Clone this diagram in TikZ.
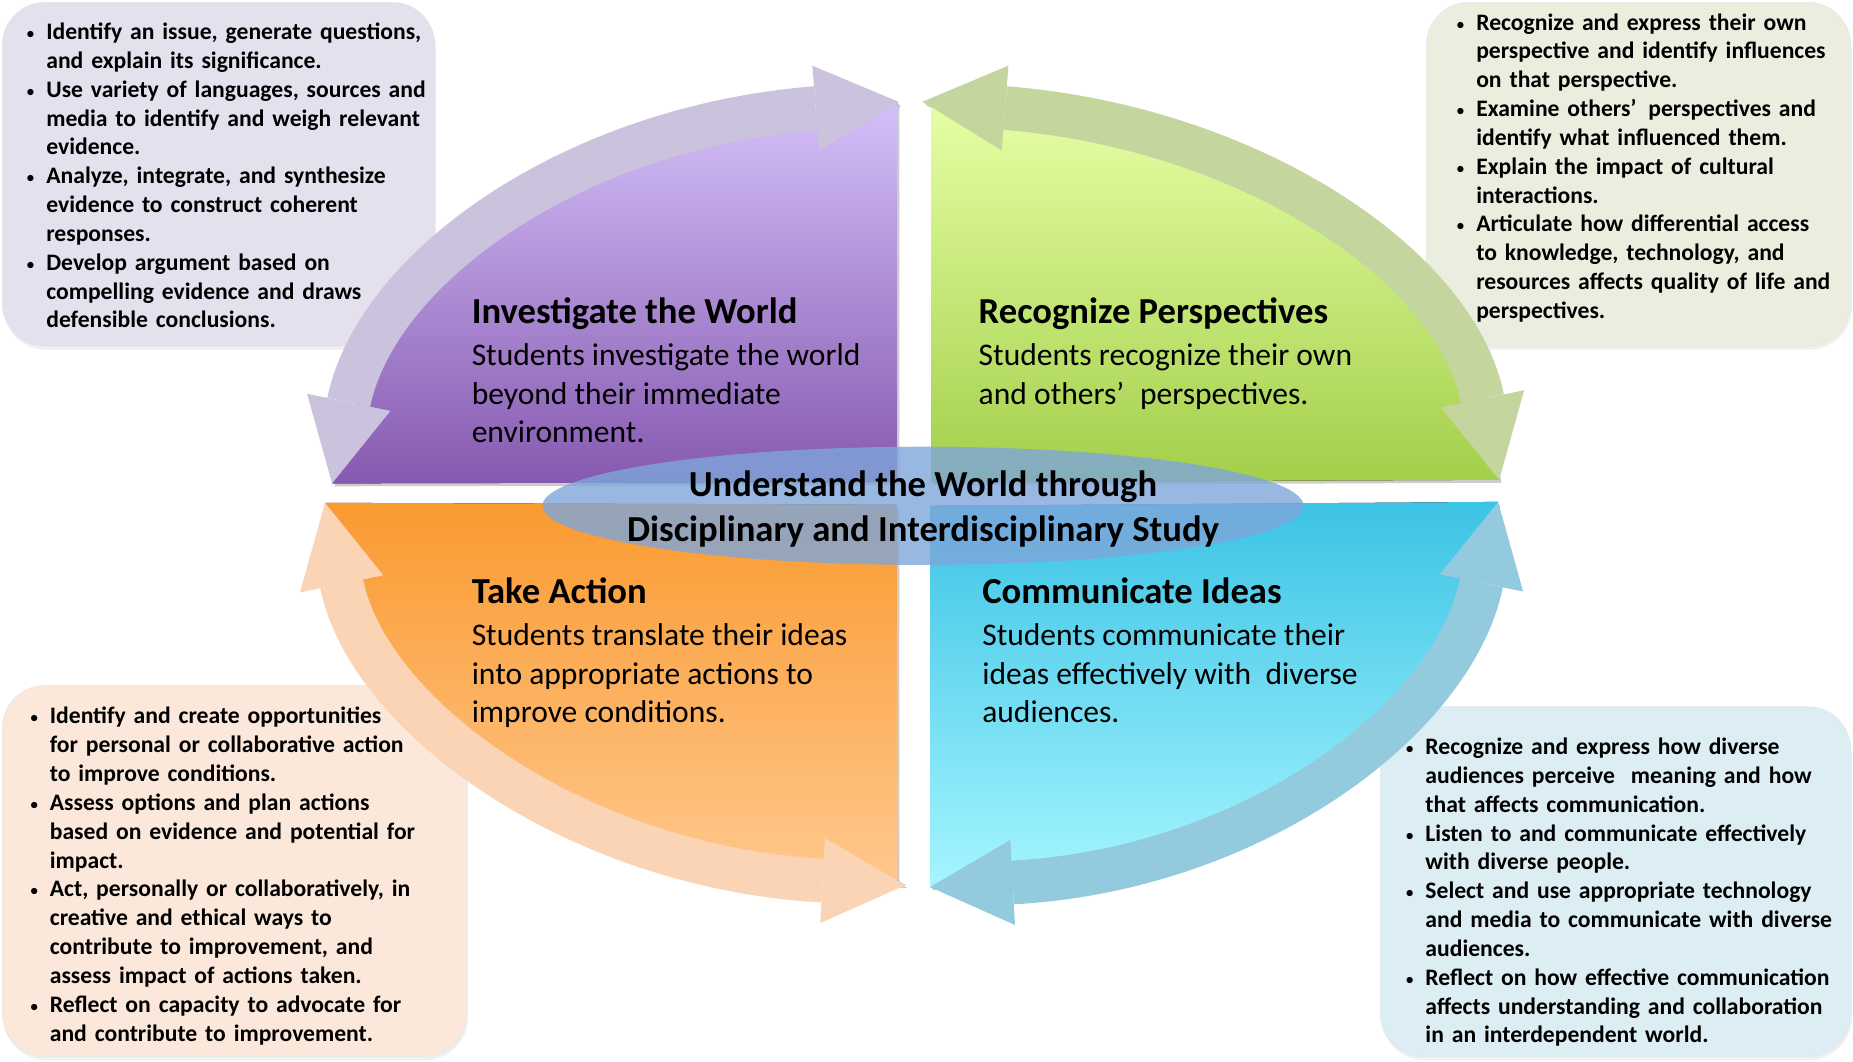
\documentclass[tikz,border=0pt]{standalone}
\usepackage{fontspec}
\setmainfont{Carlito}
\usetikzlibrary{arrows.meta,shadows}

\definecolor{invTop}{HTML}{D4C0F8}
\definecolor{invBot}{HTML}{8659B0}
\definecolor{invArr}{HTML}{CBC3DD}
\definecolor{invBox}{HTML}{E5E0EE}
\definecolor{recTop}{HTML}{E6FFA6}
\definecolor{recBot}{HTML}{A3CF4A}
\definecolor{recArr}{HTML}{C4D59E}
\definecolor{recBox}{HTML}{EBEEDF}
\definecolor{actTop}{HTML}{FA9A30}
\definecolor{actBot}{HTML}{FFC88E}
\definecolor{actArr}{HTML}{FAD4B4}
\definecolor{actBox}{HTML}{FCE8DA}
\definecolor{comTop}{HTML}{3CC3E5}
\definecolor{comBot}{HTML}{A5F5FF}
\definecolor{comArr}{HTML}{94CADD}
\definecolor{comBox}{HTML}{DCEDF3}
\definecolor{hubFill}{HTML}{7EA6DA}

\newcommand{\bitem}[1]{\par\hangindent=18pt\hangafter=1\noindent
  \hbox to 18pt{\hskip1pt\mdseries\fontsize{15}{15}\selectfont\textbullet\hfil}#1\par}

\tikzset{
  notebox/.style={rounded corners=36pt, fill=#1, draw=black!10,
    drop shadow={opacity=.12, shadow xshift=1pt, shadow yshift=-3pt}},
  notes/.style={anchor=base west, inner sep=0pt, text width=420pt, yshift=24.4pt,
    font=\bfseries\fontsize{20}{24.4}\selectfont},
  quad/.style 2 args={top color=#1, bottom color=#2,
    drop shadow={opacity=.4, shadow xshift=2pt, shadow yshift=-2.5pt}},
  bigarrow/.style={draw=#1, line width=37pt,
    {Triangle[length=70pt,width=72pt,line width=0pt]}-{Triangle[length=70pt,width=72pt,line width=0pt]}},
  quadtitle/.style={anchor=base west, inner sep=0pt, font=\bfseries\fontsize{31}{38}\selectfont},
  quadtext/.style={anchor=base west, inner sep=0pt, align=left, font=\fontsize{26.7}{32.5}\selectfont},
}

\begin{document}
\begin{tikzpicture}[x=1pt,y=-1pt]
\useasboundingbox (0,0) rectangle (1568,898);

\draw[notebox=invBox] (2,2) rectangle (368,293);
\draw[notebox=recBox] (1207,2) rectangle (1566,293);
\draw[notebox=actBox] (2,580) rectangle (395,894);
\draw[notebox=comBox] (1168,598) rectangle (1566,894);

\coordinate (invA) at (760,86);     \coordinate (invB) at (281,409);
\coordinate (invP) at (485.8,107.5); \coordinate (invQ) at (318.7,225.8);
\coordinate (recA) at (780.7,86);    \coordinate (recB) at (1268.6,406);
\coordinate (recP) at (1054.9,107.5); \coordinate (recQ) at (1230.9,222.8);
\coordinate (actA) at (766,749);     \coordinate (actB) at (275,425.5);
\coordinate (actP) at (491.5,733.9); \coordinate (actQ) at (312.7,608.7);
\coordinate (comA) at (787,750.6);   \coordinate (comB) at (1267.7,424.7);
\coordinate (comP) at (1061.5,735.5); \coordinate (comQ) at (1230,607.9);

\fill[quad={invTop}{invBot}] (759,408) -- (759,90) -- (invA)
  .. controls (invP) and (invQ) .. (invB) -- cycle;
\fill[quad={recTop}{recBot}] (788,408) -- (788,90) -- (recA)
  .. controls (recP) and (recQ) .. (recB) -- cycle;
\fill[quad={actTop}{actBot}] (759,427) -- (actB)
  .. controls (actQ) and (actP) .. (actA) -- (759,745) -- cycle;
\fill[quad={comTop}{comBot}] (787,428) -- (comA)
  .. controls (comP) and (comQ) .. (comB) -- cycle;

\foreach \nm in {inv,rec,act,com}
  \draw[bigarrow=\nm Arr] (\nm A) .. controls (\nm P) and (\nm Q) .. (\nm B);

\fill[hubFill, opacity=.8] (781,428) ellipse[x radius=322, y radius=50];

\node[notes] (invNotes) at (21,33.5) {%
\bitem{Identify an issue, generate questions,\newline and explain its significance.}
\bitem{Use variety of languages, sources and\newline media to identify and weigh relevant\newline evidence.}
\bitem{Analyze, integrate, and synthesize\newline evidence to construct coherent\newline responses.}
\bitem{Develop argument based on\newline compelling evidence and draws\newline defensible conclusions.}};

\node[notes] (recNotes) at (1231,25.5) {%
\bitem{Recognize and express their own\newline perspective and identify influences\newline on that perspective.}
\bitem{Examine others’\enspace perspectives and\newline identify what influenced them.}
\bitem{Explain the impact of cultural\newline interactions.}
\bitem{Articulate how differential access\newline to knowledge, technology, and\newline resources affects quality of life and\newline perspectives.}};

\node[notes] (actNotes) at (24,612.5) {%
\bitem{Identify and create opportunities\newline for personal or collaborative action\newline to improve conditions.}
\bitem{Assess options and plan actions\newline based on evidence and potential for\newline impact.}
\bitem{Act, personally or collaboratively, in\newline creative and ethical ways to\newline contribute to improvement, and\newline assess impact of actions taken.}
\bitem{Reflect on capacity to advocate for\newline and contribute to improvement.}};

\node[notes] (comNotes) at (1188,638.5) {%
\bitem{Recognize and express how diverse\newline audiences perceive\ \ meaning and how\newline that affects communication.}
\bitem{Listen to and communicate effectively\newline with diverse people.}
\bitem{Select and use appropriate technology\newline and media to communicate with diverse\newline audiences.}
\bitem{Reflect on how effective communication\newline affects understanding and collaboration\newline in an interdependent world.}};

\node[quadtitle] (invTitle) at (399,274) {Investigate the World};
\node[quadtext] (invText) at (399,374.6) {Students investigate the world\\beyond their immediate\\environment.};
\node[quadtitle] (recTitle) at (828,274) {Recognize Perspectives};
\node[quadtext] (recText) at (828,342.1) {Students recognize their own\\and others’\enspace perspectives.};
\node[quadtitle] (actTitle) at (399,511) {Take Action};
\node[quadtext] (actText) at (399,611.6) {Students translate their ideas\\into appropriate actions to\\improve conditions.};
\node[quadtitle] (comTitle) at (831,511) {Communicate Ideas};
\node[quadtext] (comText) at (831,611.6) {Students communicate their\\ideas effectively with\ \ diverse\\audiences.};

\node[align=center, font=\bfseries\fontsize{31}{38}\selectfont] (hub) at (781,431)
  {Understand the World through\\Disciplinary and Interdisciplinary Study};
\end{tikzpicture}
\end{document}
